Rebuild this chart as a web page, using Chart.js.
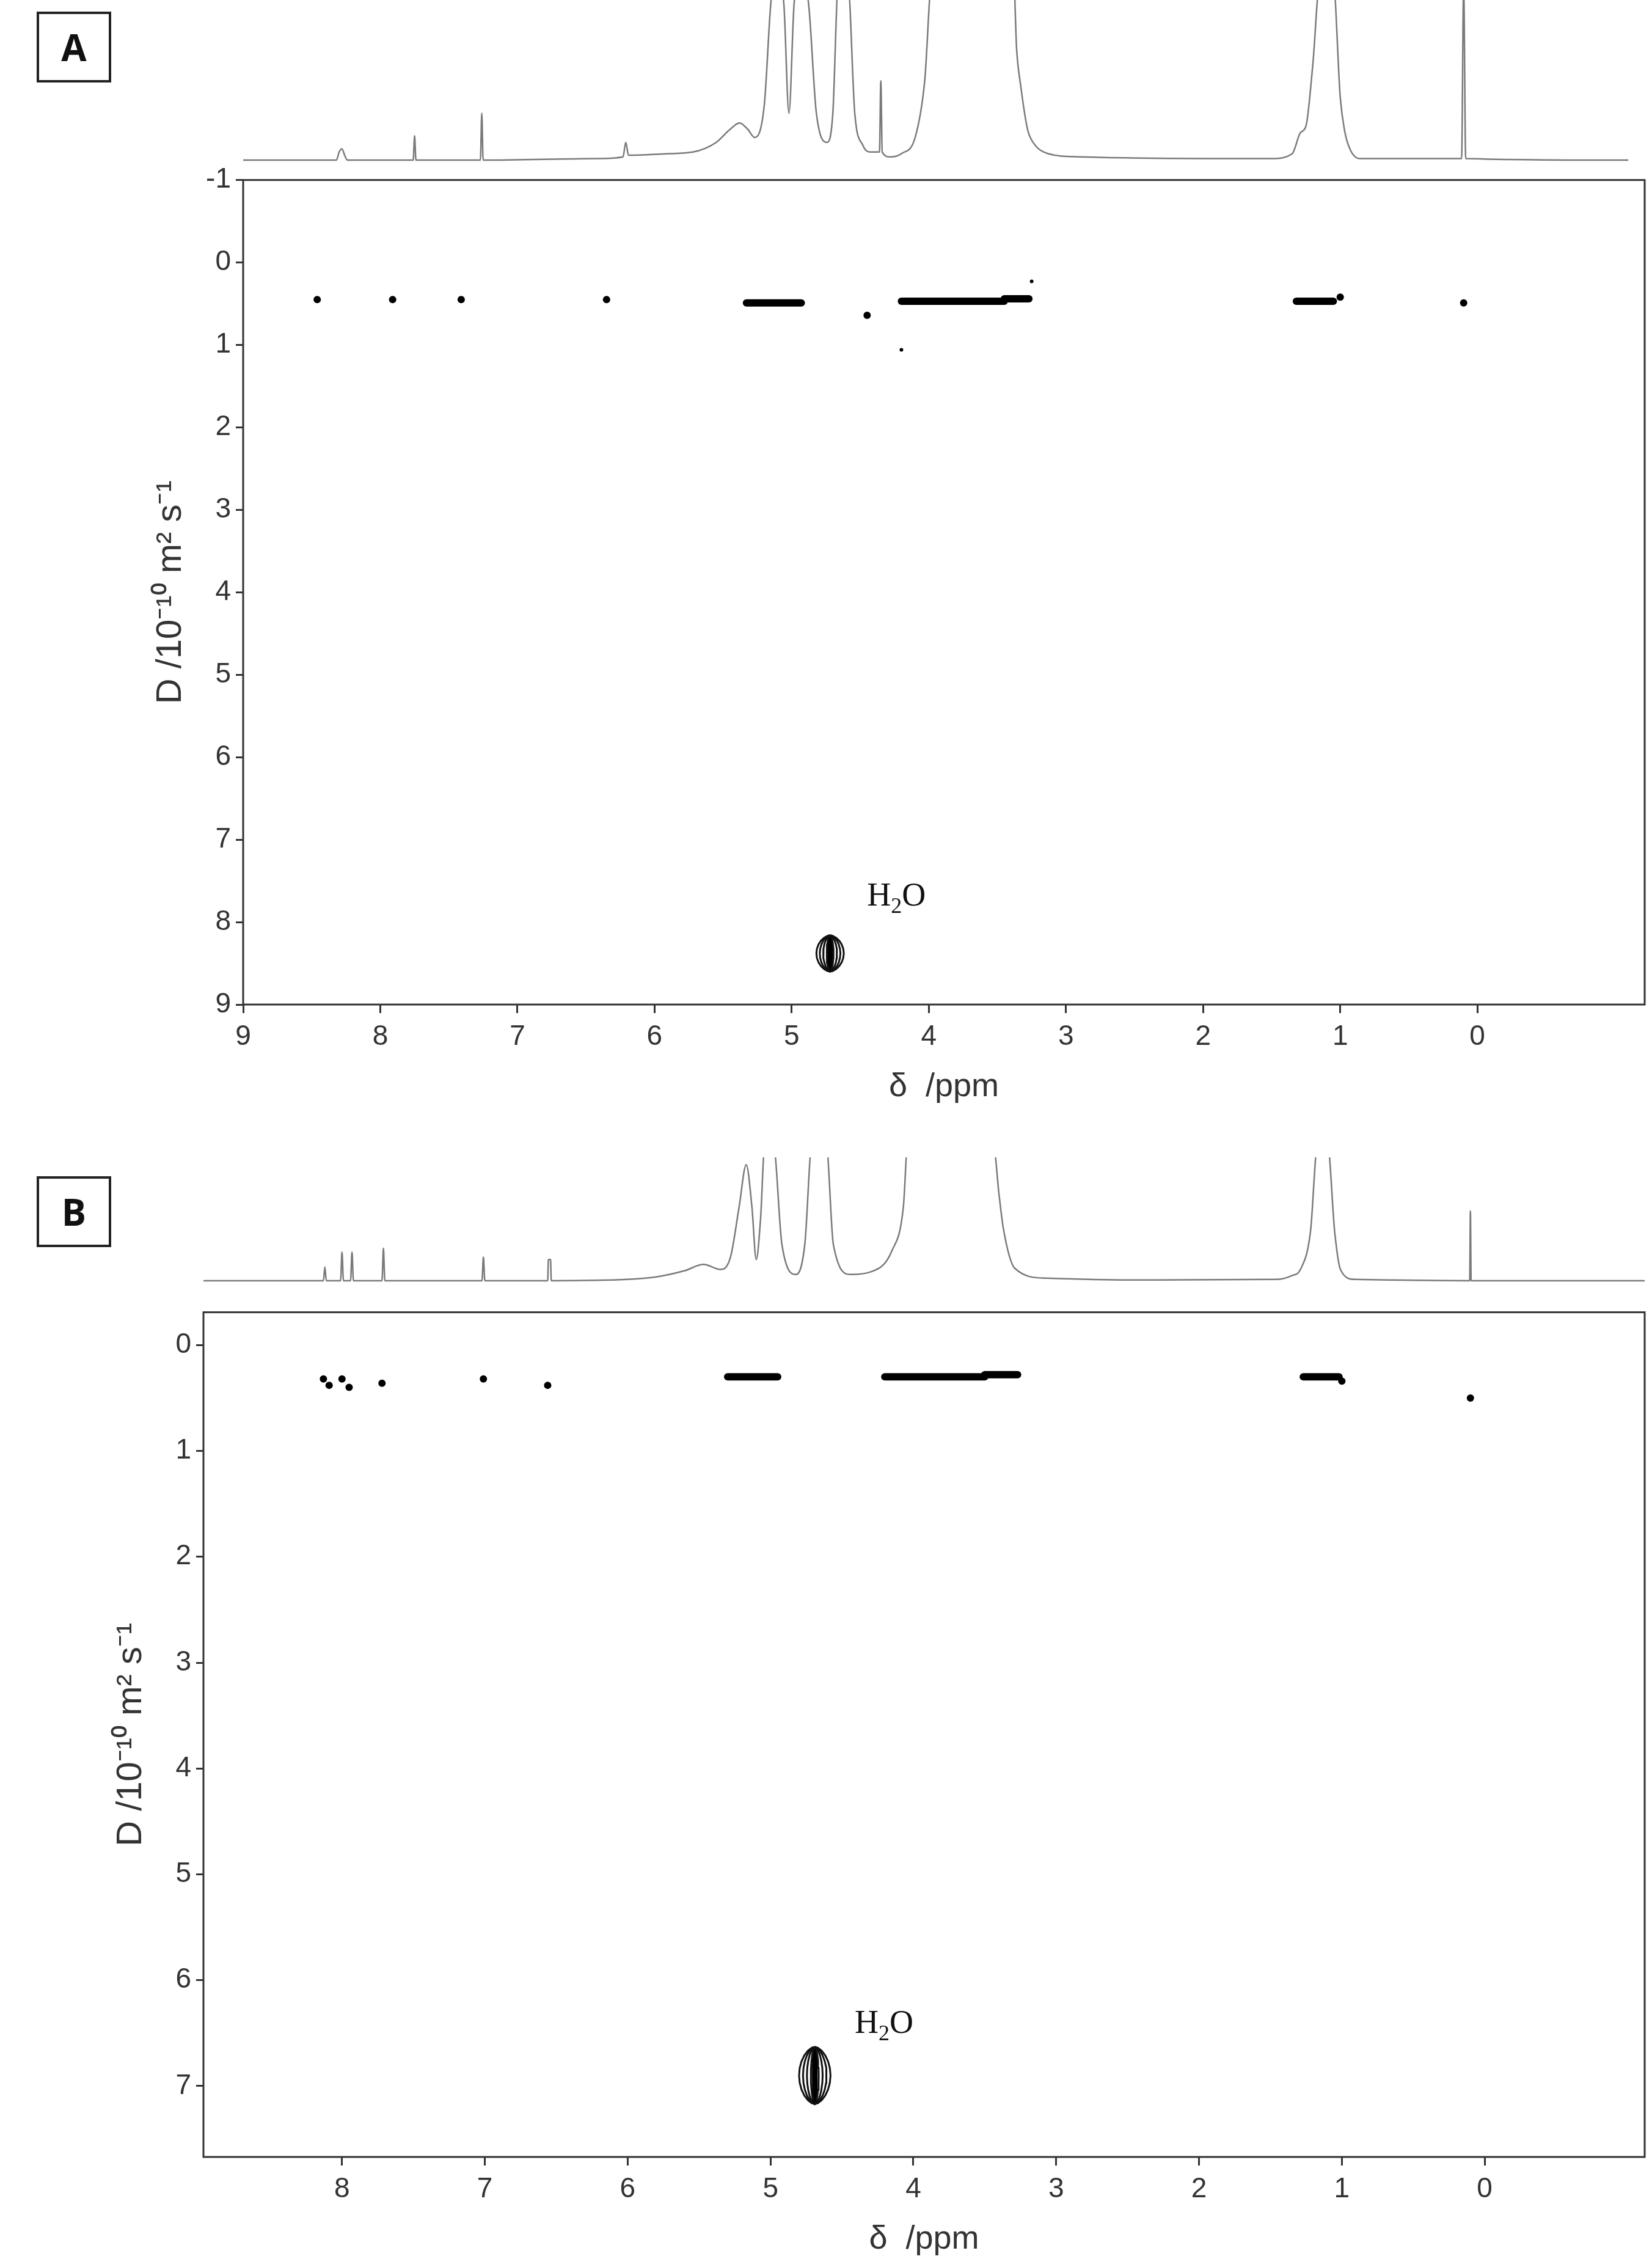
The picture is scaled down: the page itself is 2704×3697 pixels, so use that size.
<!DOCTYPE html>
<html>
<head>
<meta charset="utf-8">
<script src="https://cdn.jsdelivr.net/npm/chart.js@4.4.1/dist/chart.umd.min.js"></script>
<style>
  body { margin: 0; background: #fff; width: 2704px; height: 3697px; position: relative; overflow: hidden; }
  canvas { position: absolute; }
  .tag { position: absolute; width: 122px; height: 116px; border: 4px solid #222; box-sizing: border-box;
         font: bold 60px "Open Sans", sans-serif; text-align: center; line-height: 108px; color: #111; }
</style>
</head>
<body>
<div class="tag" style="left:60px; top:19px;">A</div>
<div class="tag" style="left:60px; top:1925px;">B</div>
<canvas id="specA"></canvas>
<canvas id="dosyA"></canvas>
<canvas id="specB"></canvas>
<canvas id="dosyB"></canvas>
<script>
// ---- data (ppm, value) ----
const xTicksA = [9, 8, 7, 6, 5, 4, 3, 2, 1, 0];
const yTicksA = [-1, 0, 1, 2, 3, 4, 5, 6, 7, 8, 9];
const xTicksB = [8, 7, 6, 5, 4, 3, 2, 1, 0];
const yTicksB = [0, 1, 2, 3, 4, 5, 6, 7];

// 1D projection traces (relative height, clipped at 100)
const spectrumA = [[9.0,1],[8.32,1],[8.30,6],[8.28,8],[8.26,4],[8.24,1],[7.76,1],[7.75,16],[7.74,1],[7.27,1],[7.26,30],[7.25,1],
  [6.40,2],[6.23,3],[6.21,12],[6.19,4],[5.9,5],[5.72,6],[5.55,12],[5.45,20],[5.38,24],[5.32,20],[5.27,15],[5.2,35],[5.15,100],
  [5.12,110],[5.06,100],[5.02,30],[4.98,100],[4.93,110],[4.88,100],[4.82,30],[4.74,12],[4.70,30],[4.66,110],[4.59,110],[4.54,30],
  [4.48,10],[4.43,6],[4.36,6],[4.35,50],[4.34,6],[4.28,3],[4.20,5],[4.10,15],[4.03,50],[3.98,110],[3.38,110],[3.36,70],[3.33,47],
  [3.28,20],[3.24,12],[3.13,5],[2.9,3],[2.0,2],[1.5,2],[1.35,5],[1.29,18],[1.25,22],[1.20,60],[1.15,110],[1.05,110],[1.00,40],
  [0.97,20],[0.93,8],[0.86,2],[0.115,2],[0.10,110],[0.085,2],[-1.1,1]];
const spectrumB = [[8.97,1],[8.13,1],[8.12,12],[8.11,1],[8.01,1],[8.00,24],[7.99,1],[7.94,1],[7.93,24],[7.92,1],[7.72,1],[7.71,27],
  [7.70,1],[7.02,1],[7.01,20],[7.00,1],[6.56,1],[6.555,18],[6.54,18],[6.535,1],[6.0,2],[5.8,4],[5.6,9],[5.47,14],[5.35,10],[5.28,20],
  [5.22,60],[5.17,94],[5.13,60],[5.10,18],[5.07,50],[5.04,110],[4.98,110],[4.92,30],[4.82,6],[4.76,30],[4.71,110],[4.61,110],
  [4.56,30],[4.44,6],[4.3,8],[4.15,25],[4.07,60],[4.04,110],[3.44,110],[3.40,70],[3.37,43],[3.29,11],[3.07,3],[2.5,1.5],[1.45,2],
  [1.35,5],[1.29,10],[1.22,40],[1.17,110],[1.10,110],[1.05,40],[1.01,10],[0.91,2],[0.105,1],[0.10,57],[0.095,1],[-1.12,1]];

// DOSY cross peaks: dots [ppm, D] and bars [ppmStart, ppmEnd, D]
const dotsA = [[8.46,0.45],[7.91,0.45],[7.41,0.45],[6.35,0.45],[4.45,0.64],[0.10,0.49],[1.0,0.42]];
const tinyA = [[3.25,0.23],[4.2,1.06]];
const barsA = [[5.33,4.93,0.49],[4.2,3.45,0.47],[3.45,3.27,0.44],[1.32,1.05,0.47]];
const waterA = { ppm: 4.72, d: 8.38, hw: 0.1, hh: 0.22 };
const labelA = [4.45, 7.8];

const dotsB = [[8.13,0.32],[8.09,0.38],[8.0,0.32],[7.95,0.4],[7.72,0.36],[7.01,0.32],[6.56,0.38],[1.0,0.34],[0.1,0.5]];
const tinyB = [];
const barsB = [[5.3,4.95,0.30],[4.2,3.5,0.30],[3.5,3.27,0.28],[1.27,1.02,0.30]];
const waterB = { ppm: 4.69, d: 6.9, hw: 0.11, hh: 0.27 };
const labelB = [4.41, 6.5];

const pt = a => ({ x: a[0], y: a[1] });

function lens(w, k) {
  const pts = [];
  const n = 24;
  for (let i = 0; i <= n; i++) {
    const t = i / n * Math.PI * 2;
    const s = Math.sin(t), c = Math.cos(t);
    pts.push({ x: w.ppm + w.hw * k * s * Math.abs(s) ** 0.2, y: w.d - w.hh * c });
  }
  return pts;
}

const framePlugin = {
  id: 'frame',
  afterDraw(chart) {
    const a = chart.chartArea, ctx = chart.ctx;
    ctx.save();
    ctx.strokeStyle = '#333';
    ctx.lineWidth = 3;
    ctx.strokeRect(a.left, a.top, a.right - a.left, a.bottom - a.top);
    const lab = chart.options.plugins.h2o;
    if (lab) {
      const x = chart.scales.x.getPixelForValue(lab[0]);
      const y = chart.scales.y.getPixelForValue(lab[1]);
      ctx.fillStyle = '#111';
      ctx.textBaseline = 'alphabetic';
      ctx.font = '54px "Liberation Serif"';
      ctx.fillText('H', x, y);
      let w = ctx.measureText('H').width;
      ctx.font = '36px "Liberation Serif"';
      ctx.fillText('2', x + w, y + 12);
      w += ctx.measureText('2').width;
      ctx.font = '54px "Liberation Serif"';
      ctx.fillText('O', x + w, y);
    }
    ctx.restore();
  }
};

function spectrum(id, data, left, top, width, height, xmin, xmax) {
  const c = document.getElementById(id);
  c.style.left = left + 'px'; c.style.top = top + 'px';
  c.width = width; c.height = height;
  c.style.width = width + 'px'; c.style.height = height + 'px';
  const pts = data.map(pt).sort((a, b) => a.x - b.x);
  new Chart(c, {
    type: 'scatter',
    data: { datasets: [{ data: pts, showLine: true, borderColor: '#7a7a7a', borderWidth: 2.5,
      pointRadius: 0, cubicInterpolationMode: 'monotone', clip: true }] },
    options: {
      responsive: false, animation: false, devicePixelRatio: 1,
      layout: { padding: 0 },
      plugins: { legend: { display: false }, tooltip: { enabled: false } },
      scales: {
        x: { type: 'linear', reverse: true, min: xmin, max: xmax, display: false },
        y: { min: -2, max: 100, display: false }
      }
    }
  });
}

function dosy(id, o) {
  const c = document.getElementById(id);
  const W = 2704 - o.left, H = 20 + o.plotH + 190;
  c.style.left = o.left + 'px'; c.style.top = (o.top - 20) + 'px';
  c.width = W; c.height = H; c.style.width = W + 'px'; c.style.height = H + 'px';
  const sets = [];
  o.bars.forEach(b => sets.push({ data: [{ x: b[0], y: b[2] }, { x: b[1], y: b[2] }], showLine: true,
    borderColor: '#000', borderWidth: 12, borderCapStyle: 'round', pointRadius: 0 }));
  sets.push({ data: o.dots.map(pt), pointRadius: 6, backgroundColor: '#000', borderWidth: 0 });
  sets.push({ data: o.tiny.map(pt), pointRadius: 3, backgroundColor: '#000', borderWidth: 0 });
  [1, 0.75, 0.5, 0.25].forEach(k => sets.push({ data: lens(o.water, k), showLine: true, borderColor: '#111',
    borderWidth: 3, pointRadius: 0, tension: 0 }));
  sets.push({ data: [{ x: o.water.ppm, y: o.water.d - o.water.hh }, { x: o.water.ppm, y: o.water.d + o.water.hh }],
    showLine: true, borderColor: '#000', borderWidth: 9, pointRadius: 0 });
  const tickFont = { family: 'Liberation Sans', size: 46 };
  new Chart(c, {
    type: 'scatter',
    data: { datasets: sets },
    options: {
      responsive: false, animation: false, devicePixelRatio: 1,
      layout: { padding: { top: 20, right: 12, left: 0, bottom: 0 } },
      plugins: { legend: { display: false }, tooltip: { enabled: false }, h2o: o.label },
      scales: {
        x: {
          type: 'linear', reverse: true, min: o.xmin, max: o.xmax,
          afterBuildTicks: s => { s.ticks = o.xticks.map(v => ({ value: v })); },
          afterFit: s => { s.height = 190; },
          grid: { drawOnChartArea: false, tickLength: 14, color: '#333', lineWidth: 3 },
          border: { display: false },
          ticks: { font: tickFont, color: '#333', padding: 12, maxRotation: 0 },
          title: { display: true, text: 'δ  /ppm', font: { family: 'Liberation Sans', size: 54 }, color: '#333',
            padding: { top: 0, bottom: 22 } }
        },
        y: {
          reverse: true, min: o.ymin, max: o.ymax,
          afterBuildTicks: s => { s.ticks = o.yticks.map(v => ({ value: v })); },
          afterFit: s => { s.width = o.yw; },
          grid: { drawOnChartArea: false, tickLength: 12, color: '#333', lineWidth: 3 },
          border: { display: false },
          ticks: { font: tickFont, color: '#333', padding: 8 },
          title: { display: true, text: 'D /10⁻¹⁰ m² s⁻¹', font: { family: 'Liberation Sans', size: 58 }, color: '#333',
            padding: { top: o.tpad, bottom: 0 } }
        }
      }
    },
    plugins: [framePlugin]
  });
}

spectrum('specA', spectrumA, 398, 0, 2294, 270, -1.22, 9.0);
dosy('dosyA', { left: 200, top: 279, plotH: 1365, yw: 198, tpad: 45, xmin: -1.22, xmax: 9.0, ymin: -1, ymax: 9,
  xticks: xTicksA, yticks: yTicksA, dots: dotsA, tiny: tinyA, bars: barsA, water: waterA, label: labelA });

spectrum('specB', spectrumB, 333, 1894, 2359, 208, -1.12, 8.97);
dosy('dosyB', { left: 140, top: 2132, plotH: 1398, yw: 193, tpad: 40, xmin: -1.12, xmax: 8.97, ymin: -0.31, ymax: 7.67,
  xticks: xTicksB, yticks: yTicksB, dots: dotsB, tiny: tinyB, bars: barsB, water: waterB, label: labelB });
</script>
</body>
</html>
